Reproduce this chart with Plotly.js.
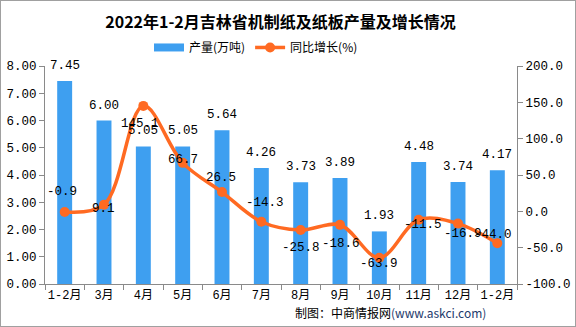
<!DOCTYPE html>
<html>
<head>
<meta charset="utf-8">
<script src="https://cdn.plot.ly/plotly-3.0.1.min.js"></script>
<style>
html,body{margin:0;padding:0;background:#fff;}
#chart{width:576px;height:327px;box-sizing:border-box;border:1px solid #a0a0a0;}
</style>
</head>
<body>
<div id="chart"></div>
<script>
// Data
const monthLabels = ['1-2月','3月','4月','5月','6月','7月','8月','9月','10月','11月','12月','1-2月'];
const output = [7.45, 6.00, 5.05, 5.05, 5.64, 4.26, 3.73, 3.89, 1.93, 4.48, 3.74, 4.17];
const growth = [-0.9, 9.1, 145.1, 66.7, 26.5, -14.3, -25.8, -18.6, -63.9, -11.5, -16.9, -44.0];
const leftTicks = [0,1,2,3,4,5,6,7,8];
const leftTickText = ['0.00','1.00','2.00','3.00','4.00','5.00','6.00','7.00','8.00'];
const rightTicks = [-100,-50,0,50,100,150,200];
const rightTickText = ['-100.0','-50.0','0.0','50.0','100.0','150.0','200.0'];

// label offsets (style) for growth labels: [dx, dy] in px, dy positive = up
const growthLabelShift = [[-3,20],[-1,-4],[-3,-18],[0,3],[-1,14],[4,19],[0,-18],[1,-19],[0,-6],[4,-5],[5,-10],[-4,8]];

const idx = monthLabels.map((_, i) => i);
const MONO = 'Liberation Mono, Noto Sans CJK SC, monospace';
const CJK = 'Noto Sans CJK SC, sans-serif';
const barColor = '#3E9FF0';
const lineColor = '#FF6A22';
const axisColor = '#8a8a8a';

const traces = [
  {
    type: 'bar', name: '产量(万吨)', x: idx, y: output, showlegend: false,
    width: 0.38, marker: {color: barColor}, yaxis: 'y', hoverinfo: 'none'
  },
  {
    type: 'scatter', mode: 'lines', name: '产量(万吨)', x: [null], y: [null],
    line: {color: barColor, width: 8}, yaxis: 'y', hoverinfo: 'none'
  },
  {
    type: 'scatter', mode: 'lines+markers', name: '同比增长(%)', x: idx, y: growth,
    yaxis: 'y2', line: {color: lineColor, width: 3.5, shape: 'spline', smoothing: 1},
    marker: {color: lineColor, size: 10}, hoverinfo: 'none'
  }
];

const annotations = [];
output.forEach((v, i) => {
  annotations.push({
    x: i, y: v, xref: 'x', yref: 'y', text: v.toFixed(2), showarrow: false,
    yanchor: 'middle', yshift: 15, font: {family: MONO, size: 12.5, color: '#000'}
  });
});
growth.forEach((v, i) => {
  annotations.push({
    x: i, y: v, xref: 'x', yref: 'y2', text: v.toFixed(1), showarrow: false,
    yanchor: 'middle', xshift: growthLabelShift[i][0], yshift: growthLabelShift[i][1],
    font: {family: MONO, size: 12.5, color: '#000'}
  });
});
annotations.push({
  xref: 'paper', yref: 'paper', x: 0.733, y: -0.133, xanchor: 'center', yanchor: 'middle',
  showarrow: false,
  text: '制图：中商情报网<span style="color:#243a6b">(www.askci.com)</span>',
  font: {family: CJK, size: 12, color: '#000'}
});

const layout = {
  width: 574, height: 325,
  margin: {l: 44, r: 58, t: 65, b: 42, pad: 0},
  paper_bgcolor: '#fff', plot_bgcolor: '#fff',
  showlegend: true,
  title: {
    text: '<b>2022年1-2月吉林省机制纸及纸板产量及增长情况</b>',
    x: 0.487, xref: 'container', xanchor: 'center',
    y: 0.935, yref: 'container', yanchor: 'middle',
    font: {family: CJK, size: 16, color: '#000'}
  },
  legend: {
    orientation: 'h', x: 0.447, xanchor: 'center', y: 1.085, yanchor: 'middle',
    font: {family: CJK, size: 12, color: '#000'}, bgcolor: 'rgba(0,0,0,0)',
    itemwidth: 30, tracegroupgap: 0
  },
  xaxis: {
    range: [-0.5, 11.5], tickmode: 'array', tickvals: idx, ticktext: monthLabels,
    ticks: '', showgrid: false, zeroline: false, showline: true,
    linecolor: axisColor, linewidth: 1,
    tickfont: {family: MONO, size: 12, color: '#000'},
    minor: {tickmode: 'array', tickvals: [-0.5,0.5,1.5,2.5,3.5,4.5,5.5,6.5,7.5,8.5,9.5,10.5,11.5],
            ticks: 'outside', ticklen: 5, tickcolor: axisColor, showgrid: false},
    fixedrange: true
  },
  yaxis: {
    range: [0, 8], tickmode: 'array', tickvals: leftTicks, ticktext: leftTickText,
    ticks: 'outside', ticklen: 5, tickcolor: axisColor,
    showgrid: false, zeroline: false, showline: true, linecolor: axisColor, linewidth: 1,
    tickfont: {family: MONO, size: 12.5, color: '#000'}, fixedrange: true
  },
  yaxis2: {
    range: [-100, 200], overlaying: 'y', side: 'right',
    tickmode: 'array', tickvals: rightTicks, ticktext: rightTickText,
    ticks: 'outside', ticklen: 5, tickcolor: axisColor,
    showgrid: false, zeroline: false, showline: true, linecolor: axisColor, linewidth: 1,
    tickfont: {family: MONO, size: 12.5, color: '#000'}, fixedrange: true
  },
  annotations: annotations
};

Plotly.newPlot('chart', traces, layout, {displayModeBar: false, staticPlot: true});
</script>
</body>
</html>
